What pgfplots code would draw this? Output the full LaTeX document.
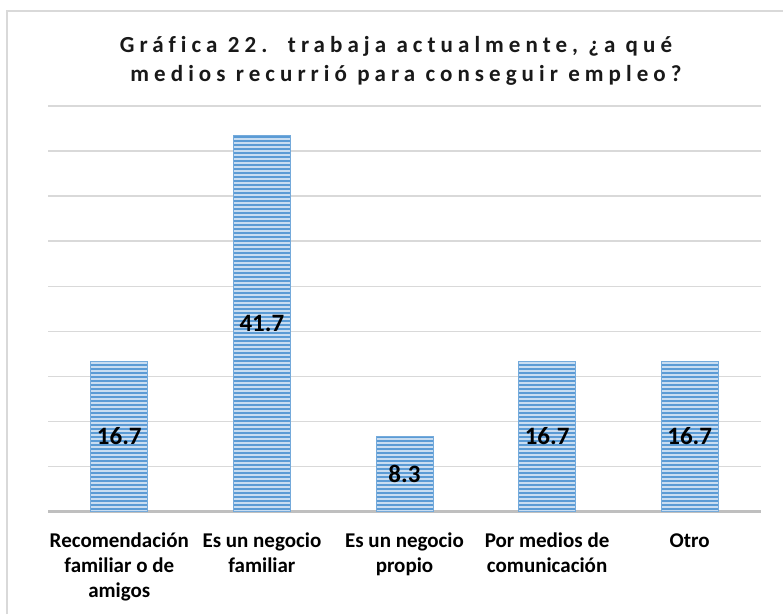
\documentclass[border=0pt]{standalone}
\usepackage{fontspec}
\setmainfont{Carlito}
\usepackage{pgfplots}
\pgfplotsset{compat=1.18}
\usetikzlibrary{patterns}
\pgfdeclarepatternformonly{hstripes}{\pgfpoint{0pt}{0pt}}{\pgfpoint{900pt}{3.6pt}}{\pgfpoint{900pt}{3.6pt}}{%
  \pgfpathrectangle{\pgfpoint{0pt}{0pt}}{\pgfpoint{900pt}{2.1pt}}\pgfusepath{fill}}
\definecolor{barblue}{HTML}{5B9BD5}
\definecolor{barlight}{HTML}{C9DDF1}
\definecolor{gridgray}{HTML}{D9D9D9}
\definecolor{axisgray}{HTML}{BFBFBF}
\definecolor{framegray}{HTML}{D9D9D9}
\begin{document}
\begin{tikzpicture}[x=1pt,y=1pt]
\path[use as bounding box] (0,0) rectangle (783,614);
\draw[framegray, line width=1.5pt] (7,0) -- (7,603) -- (783,603);
\node[anchor=base, inner sep=0pt, text=black!90, font=\fontsize{23}{27}\selectfont\bfseries\addfontfeatures{LetterSpace=22,Ligatures=NoCommon}] at (396,561) {Gráfica 22.\ \ trabaja actualmente, ¿a qué};
\node[anchor=base, inner sep=0pt, text=black!90, font=\fontsize{23}{27}\selectfont\bfseries\addfontfeatures{LetterSpace=22,Ligatures=NoCommon}] at (406,532) {medios recurrió para conseguir empleo?};
\begin{axis}[
  at={(48pt,102.3pt)}, anchor=south west,
  scale only axis, width=713pt, height=405.7pt,
  xmin=-0.5, xmax=4.5, ymin=0, ymax=45,
  ytick={0,5,...,45}, yticklabels={},
  ymajorgrids, grid style={gridgray, line width=1.5pt},
  axis x line*=bottom, axis y line*=left,
  x axis line style={axisgray, line width=3pt, -},
  y axis line style={draw=none},
  xtick={0,1,2,3,4}, xtick style={draw=none}, ytick style={draw=none},
  xticklabels={{\strut Recomendación\\familiar o de\\amigos},{\strut Es un negocio\\familiar},{\strut Es un negocio\\propio},{\strut Por medios de\\comunicación},{\strut Otro}},
  xticklabel style={align=center, font=\fontsize{21}{25}\selectfont\bfseries, inner sep=0pt, anchor=north, yshift=-18pt},
  /pgf/number format/assume math mode=true,
  clip=false,
]
\addplot[ybar, bar width=57pt, draw=barblue!85, line width=0.8pt, fill=barlight,
  postaction={pattern=hstripes, pattern color=barblue},
  visualization depends on={y/2 \as \half},
  nodes near coords,
  nodes near coords style={font=\fontsize{25}{29}\selectfont\bfseries, text=black, anchor=center, inner sep=0pt, shift={(axis direction cs:0,-\half)}},
] coordinates {(0,16.7) (1,41.7) (2,8.3) (3,16.7) (4,16.7)};
\end{axis}
\end{tikzpicture}
\end{document}
